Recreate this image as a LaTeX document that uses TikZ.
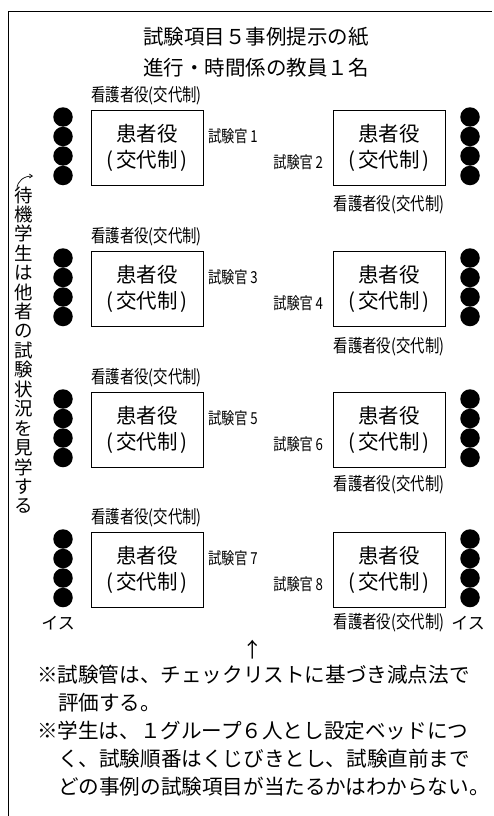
\documentclass[tikz,border=0pt]{standalone}
\usepackage{fontspec}
\newfontfamily\jp{Noto Sans CJK JP}
\newfontfamily\jpc[FakeStretch=0.8]{Noto Sans CJK JP}
\usetikzlibrary{arrows.meta}
\begin{document}
\begin{tikzpicture}[x=1pt,y=-1pt,
  every node/.style={inner sep=0pt, outer sep=0pt},
  title/.style={font=\jp\fontsize{20.5}{24}\selectfont},
  note/.style={font=\jp\fontsize{20.6}{24}\selectfont, anchor=west},
  small/.style={font=\jpc\fontsize{18}{20}\selectfont},
  exam/.style={font=\jpc\fontsize{16.5}{20}\selectfont},
  patient/.style={draw, line width=0.9pt, minimum width=112pt, minimum height=75pt,
    font=\jp\fontsize{20.5}{26}\selectfont, align=center},
  seat/.style={circle, fill=black, minimum size=19.5pt},
  vert/.style={font=\jp\fontsize{18.5}{20}\selectfont},
  frame/.style={line width=0.9pt}
]
\useasboundingbox (0,0) rectangle (493,816);
% frame (top and left only)
\coordinate (fa) at (8.5,816);
\coordinate (fb) at (8.5,11);
\coordinate (fc) at (492,11);
\draw[frame] (fa) -- (fb) -- (fc);
% titles
\node[title] (t1) at (256,37) {試験項目５事例提示の紙};
\node[title] (t2) at (256,68) {進行・時間係の教員１名};
% rows
\foreach \r/\T/\N in {0/110/95,1/251/96,2/392/93,3/532/91}{
  \pgfmathtruncatemacro{\a}{2*\r+1}
  \pgfmathtruncatemacro{\b}{2*\r+2}
  \node[small] (nl\r) at (146.5,\T-14) {看護者役(交代制)};
  \node[patient] (L\r) at (147,\T+37.5) {患者役\\(\hspace{3pt}交代制\hspace{3pt})};
  \node[patient] (R\r) at (389,\T+37.5) {患者役\\(\hspace{3pt}交代制\hspace{3pt})};
  \node[exam, anchor=west] (e\a) at (208,\T+26) {試験官\,\a};
  \node[exam, anchor=east] (e\b) at (323,\T+52) {試験官\,\b};
  \node[small] (nr\r) at (389,\T+\N) {看護者役(交代制)};
  \foreach \k/\d in {1/7,2/26.5,3/46,4/65.5}{
    \node[seat] (ls\r\k) at (63,\T+\d) {};
    \node[seat] (rs\r\k) at (470,\T+\d) {};
  }
}
% chairs label
\node[font=\jp\fontsize{17}{20}\selectfont] (isL) at (58,623) {イス};
\node[font=\jp\fontsize{17}{20}\selectfont] (isR) at (468,623) {イス};
% vertical text
\coordinate (a0) at (17,189);
\coordinate (a1) at (33,176);
\draw[line width=0.7pt, -{Straight Barb[length=3pt,width=4pt]}] (a0) .. controls (17,181) and (24,176) .. (a1);
\foreach \c [count=\i] in {待,機,学,生,は,他,者,の,試,験,状,況,を,見,学,す,る}{
  \node[vert] (v\i) at (24,{195+19.44*(\i-1)}) {\c};
}
% up arrow
\node[title] (up) at (253,650) {↑};
% notes
\node[note] (n1) at (37,675) {※試験管は、チェックリストに基づき減点法で};
\node[note] (n2) at (58,703) {評価する。};
\node[note] (n3) at (37,731) {※学生は、１グループ６人とし設定ベッドにつ};
\node[note] (n4) at (58,759) {く、試験順番はくじびきとし、試験直前まで};
\node[note] (n5) at (58,787) {どの事例の試験項目が当たるかはわからない。};
\end{tikzpicture}
\end{document}
